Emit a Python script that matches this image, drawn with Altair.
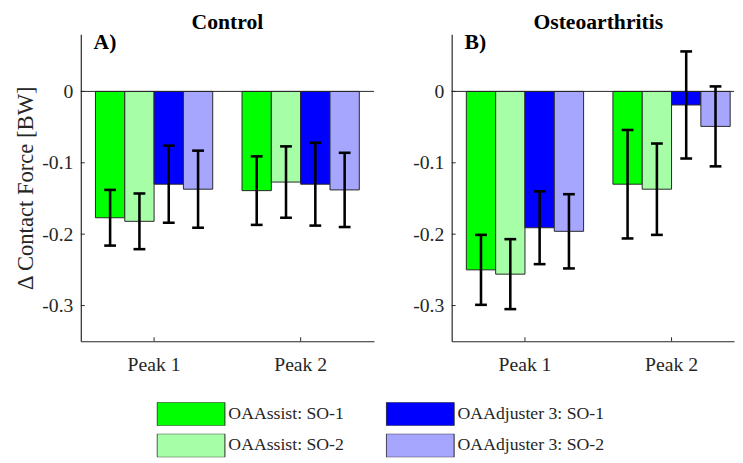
import altair as alt
import pandas as pd

groups = ["Control", "Osteoarthritis"]
panel_tags = ["A)", "B)"]
peaks = ["Peak 1", "Peak 2"]
series = ["OAAssist: SO-1", "OAAssist: SO-2", "OAAdjuster 3: SO-1", "OAAdjuster 3: SO-2"]
series_colors = ["#00FF00", "#A6FFA6", "#0000FF", "#A6A6FF"]

# mean change in contact force [BW] and its spread, in the order of `series`
control_peak1_mean = [-0.177, -0.182, -0.130, -0.137]
control_peak1_sd = [0.039, 0.039, 0.054, 0.054]
control_peak2_mean = [-0.139, -0.127, -0.130, -0.138]
control_peak2_sd = [0.048, 0.050, 0.058, 0.052]
oa_peak1_mean = [-0.250, -0.256, -0.191, -0.196]
oa_peak1_sd = [0.049, 0.049, 0.051, 0.052]
oa_peak2_mean = [-0.130, -0.137, -0.019, -0.049]
oa_peak2_sd = [0.076, 0.064, 0.075, 0.056]

y_ticks = [0, -0.1, -0.2, -0.3]
y_domain = [-0.35, 0.08]

table = {
    ("Control", "Peak 1"): (control_peak1_mean, control_peak1_sd),
    ("Control", "Peak 2"): (control_peak2_mean, control_peak2_sd),
    ("Osteoarthritis", "Peak 1"): (oa_peak1_mean, oa_peak1_sd),
    ("Osteoarthritis", "Peak 2"): (oa_peak2_mean, oa_peak2_sd),
}
rows = []
for (g, p), (means, sds) in table.items():
    for s, m, sd in zip(series, means, sds):
        rows.append({"group": g, "peak": p, "series": s, "mean": m,
                     "lo": m - sd, "hi": m + sd})
df = pd.DataFrame(rows)

FONT = "Liberation Serif"
TXT = "#262626"
H = 312
WA = 298
WB = 287
STEP = WA / 2.0


def x_scale_for(width):
    if width >= WA:
        return alt.Scale(paddingInner=0.2, paddingOuter=0.1)
    po = (width / STEP - 1.8) / 2.0
    align = (0.1 * STEP) / (width - 1.8 * STEP)
    return alt.Scale(paddingInner=0.2, paddingOuter=po, align=align)


legend = alt.Legend(
    orient="none", legendX=77, legendY=374, columns=2, title=None,
    symbolType="M-1,-0.348L1,-0.348L1,0.348L-1,0.348Z", symbolSize=4761,
    symbolStrokeColor=TXT, symbolStrokeWidth=1, symbolOpacity=1,
    clipHeight=24, labelFont=FONT, labelFontSize=18, labelColor=TXT,
    labelOffset=3, columnPadding=42, rowPadding=8, labelLimit=300,
)


def panel(i, width):
    g = groups[i]
    d = df[df["group"] == g]
    xs = x_scale_for(width)
    xaxis = alt.Axis(title=None, labelFont=FONT, labelFontSize=20,
                     labelColor=TXT, labelPadding=14, labelAngle=0,
                     ticks=False, domainColor=TXT, domainWidth=1.2)
    x = alt.X("peak:N", sort=peaks, scale=xs, axis=xaxis)
    xo = alt.XOffset("series:N", sort=series,
                     scale=alt.Scale(paddingInner=0, paddingOuter=0))
    yaxis = alt.Axis(
        values=y_ticks,
        labelExpr="datum.value < 0 ? '-' + format(-datum.value, '.1f') : '0'",
        title="Δ Contact Force [BW]" if i == 0 else "",
        titleFont=FONT, titleFontSize=23, titleFontWeight="normal",
        titleColor=TXT, titlePadding=4,
        labelFont=FONT, labelFontSize=20, labelColor=TXT, labelPadding=8,
        ticks=False, grid=False, domainColor=TXT, domainWidth=1.2,
    )
    yscale = alt.Scale(domain=y_domain, nice=False, zero=False)
    y = alt.Y("mean:Q", scale=yscale, axis=yaxis)
    color = alt.Color("series:N",
                      scale=alt.Scale(domain=series, range=series_colors),
                      legend=legend)
    base = alt.Chart(d)
    bars = base.mark_bar(stroke=TXT, strokeWidth=1, opacity=1).encode(
        x=x, xOffset=xo, y=y, y2=alt.datum(0), color=color)
    zero = alt.Chart(pd.DataFrame({"v": [0]})).mark_rule(
        color=TXT, strokeWidth=1).encode(y=alt.Y("v:Q", scale=yscale, axis=yaxis))
    ytick = alt.Chart(pd.DataFrame({"v": y_ticks})).mark_rule(
        color=TXT, strokeWidth=1).encode(y=alt.Y("v:Q", scale=yscale, axis=yaxis),
                                         x=alt.value(0), x2=alt.value(4))
    xtick = alt.Chart(pd.DataFrame({"peak": peaks})).mark_rule(
        color=TXT, strokeWidth=1).encode(x=alt.X("peak:N", sort=peaks, scale=xs, axis=xaxis),
                                         y=alt.value(H), y2=alt.value(H - 4))
    err = base.mark_rule(color="black", strokeWidth=2.6).encode(
        x=x, xOffset=xo, y=alt.Y("lo:Q", scale=yscale, axis=yaxis), y2="hi:Q")
    cap_lo = base.mark_tick(color="black", thickness=2.6, size=12, opacity=1).encode(
        x=x, xOffset=xo, y=alt.Y("lo:Q", scale=yscale, axis=yaxis))
    cap_hi = base.mark_tick(color="black", thickness=2.6, size=12, opacity=1).encode(
        x=x, xOffset=xo, y=alt.Y("hi:Q", scale=yscale, axis=yaxis))
    tag = alt.Chart(pd.DataFrame({"t": [panel_tags[i]]})).mark_text(
        font=FONT, fontSize=22, fontWeight="bold", color="black",
        align="left", baseline="alphabetic").encode(
        text="t:N", x=alt.value(13), y=alt.value(15))
    title = alt.TitleParams(g, font=FONT, fontSize=22, fontWeight="bold",
                            color="black", anchor="middle", offset=-3,
                            dx=(WA - width) / 2.0 if width < WA else 0)
    return alt.layer(bars, zero, ytick, xtick, err, cap_lo, cap_hi, tag).properties(
        width=width, height=H, title=title)


chart = alt.hconcat(panel(0, WA), panel(1, WB), spacing=38).configure(
    font=FONT).configure_axis(labelFont=FONT, titleFont=FONT).configure_legend(
    labelFont=FONT).configure_view(stroke=None).properties(
    padding={"left": 7, "top": 0, "right": 0, "bottom": 0})

chart.save("out.html", embed_options={"renderer": "svg", "actions": False})
